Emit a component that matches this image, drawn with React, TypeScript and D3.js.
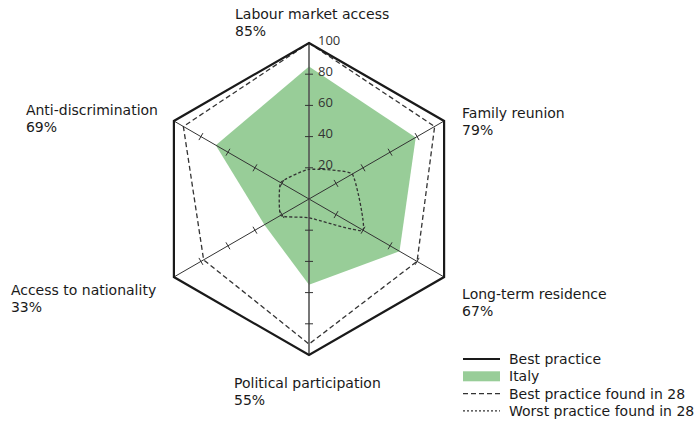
import React from "react";
import * as d3 from "d3";

const categories = [
  "Labour market access",
  "Family reunion",
  "Long-term residence",
  "Political participation",
  "Access to nationality",
  "Anti-discrimination",
];
const italy = [85, 79, 67, 55, 33, 69];
const bestPractice = [100, 100, 100, 100, 100, 100];
const bestFound = [100, 93, 80, 93, 78, 93];
const worstFound = [19, 32, 40, 12, 21, 21];
const axisTicks = [20, 40, 60, 80, 100];
const legendLabels = [
  "Best practice",
  "Italy",
  "Best practice found in 28",
  "Worst practice found in 28",
];

const W = 696;
const H = 425;
const cx = 309;
const cy = 199;
const R = 156;
const FONT = "'DejaVu Sans', 'Open Sans', sans-serif";

// label offsets relative to the outer vertex of each axis: [dx, dy(first baseline)]
const labelOffsets: [number, number][] = [
  [-74, -24],
  [18, -3],
  [18, 22],
  [-75, 33],
  [-163, 18],
  [-148, -6],
];

export default function App() {
  const r = d3.scaleLinear().domain([0, 100]).range([0, R]);
  const n = categories.length;
  const angle = (i: number) => (i * 2 * Math.PI) / n;
  const pt = (i: number, v: number): [number, number] => {
    const a = angle(i) - Math.PI / 2;
    return [cx + r(v) * Math.cos(a), cy + r(v) * Math.sin(a)];
  };

  const radial = (vals: number[], curve: d3.CurveFactory = d3.curveLinearClosed) =>
    d3
      .lineRadial<number>()
      .angle((_, i) => angle(i))
      .radius((d) => r(d))
      .curve(curve)(vals) as string;

  const legendX = 463;
  const legendY0 = 364;
  const legendStep = 17.3;

  return (
    <svg
      width={W}
      height={H}
      style={{ position: "absolute", left: 0, top: 0, background: "#fff" }}
      fontFamily={FONT}
    >
      <g transform={`translate(${cx},${cy})`}>
        <path d={radial(italy)} fill="#98cd98" stroke="none" />
      </g>
      {categories.map((_, i) => {
        const [x2, y2] = pt(i, 100);
        return (
          <line
            key={"ax" + i}
            x1={cx}
            y1={cy}
            x2={x2}
            y2={y2}
            stroke={i % 3 === 0 ? "#555" : "#333"}
            strokeWidth={i % 3 === 0 ? 1.6 : 1}
          />
        );
      })}
      {categories.map((_, i) =>
        axisTicks
          .filter((t) => t < 100)
          .map((t) => {
            const [x, y] = pt(i, t);
            const a = angle(i) - Math.PI / 2;
            const px = -Math.sin(a);
            const py = Math.cos(a);
            const L = 4;
            return (
              <line
                key={`t${i}-${t}`}
                x1={x - px * L}
                y1={y - py * L}
                x2={x + px * L}
                y2={y + py * L}
                stroke="#333"
                strokeWidth={1}
              />
            );
          })
      )}
      <g transform={`translate(${cx},${cy})`}>
        <path
          d={radial(worstFound, d3.curveCardinalClosed.tension(0.6))}
          fill="none"
          stroke="#333"
          strokeWidth={1.3}
          strokeDasharray="3,2"
        />
        <path
          d={radial(bestFound)}
          fill="none"
          stroke="#333"
          strokeWidth={1.3}
          strokeDasharray="5,3"
        />
        <path
          d={radial(bestPractice)}
          fill="none"
          stroke="#1a1a1a"
          strokeWidth={2.2}
          strokeLinejoin="miter"
        />
      </g>
      {axisTicks.map((t) => {
        const [x, y] = pt(0, t);
        return (
          <text key={"tl" + t} x={x + 9} y={y + 1.5} fontSize={13} fill="#333" fontFamily="'Open Sans', sans-serif">
            {t}
          </text>
        );
      })}
      {categories.map((c, i) => {
        const [vx, vy] = pt(i, 100);
        const [dx, dy] = labelOffsets[i];
        return (
          <g key={"cl" + i}>
            <text x={vx + dx} y={vy + dy} fontSize={14} fill="#1a1a1a">
              {c}
            </text>
            <text x={vx + dx} y={vy + dy + 16.6} fontSize={14} fill="#1a1a1a">
              {italy[i] + "%"}
            </text>
          </g>
        );
      })}
      {legendLabels.map((l, i) => {
        const y = legendY0 + i * legendStep;
        const my = y - 5;
        let sample: React.ReactNode = null;
        if (i === 0)
          sample = <line x1={legendX} x2={legendX + 37} y1={my} y2={my} stroke="#1a1a1a" strokeWidth={2.2} />;
        else if (i === 1)
          sample = <rect x={legendX} y={my - 5} width={37} height={10} fill="#98cd98" />;
        else if (i === 2)
          sample = (
            <line x1={legendX} x2={legendX + 37} y1={my} y2={my} stroke="#333" strokeWidth={1.3} strokeDasharray="5,3" />
          );
        else
          sample = (
            <line x1={legendX} x2={legendX + 37} y1={my} y2={my} stroke="#333" strokeWidth={1.3} strokeDasharray="2,2" />
          );
        return (
          <g key={"lg" + i}>
            {sample}
            <text x={legendX + 46} y={y} fontSize={14} fill="#1a1a1a">
              {l}
            </text>
          </g>
        );
      })}
    </svg>
  );
}
